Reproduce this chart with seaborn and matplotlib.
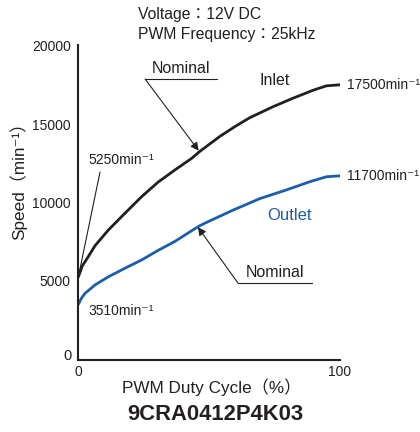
import numpy as np
import pandas as pd
import matplotlib
matplotlib.use("Agg")
import matplotlib.pyplot as plt
import seaborn as sns

# ---- data ----
inlet_duty = [0, 1.5, 3.8, 6.4, 11.5, 17.8, 24.2, 30.5, 36.9, 43.3, 46.4, 49.6, 54, 60, 65.5, 74.4, 82, 89.7, 94.8, 100]
inlet_speed = [5250, 5950, 6550, 7250, 8250, 9310, 10370, 11300, 12070, 12810, 13250, 13650, 14200, 14850, 15400, 16100, 16640, 17150, 17430, 17500]
outlet_duty = [0, 1.2, 2.6, 6.4, 11.5, 17.8, 24.2, 30.5, 36.9, 43.3, 46.4, 49.6, 59.2, 69.4, 79.5, 88.4, 94.8, 100]
outlet_speed = [3510, 3900, 4220, 4750, 5270, 5810, 6340, 6950, 7520, 8200, 8520, 8780, 9520, 10250, 10800, 11320, 11640, 11700]
off_duty = [3.7, 13.3]
off_speed = [0, 0]

series_names = ["Inlet", "Outlet"]
x_ticks = [0, 20, 40, 60, 80, 100]
x_ticklabels = ["0", "", "", "", "", "100"]
y_ticks = [0, 5000, 10000, 15000, 20000]
y_ticklabels = ["", "5000", "10000", "15000", "20000"]

title = "9CRA0412P4K03"
xlabel = "PWM Duty Cycle（%）"
ylabel = "Speed（min⁻¹）"
cond1 = "Voltage：12V DC"
cond2 = "PWM Frequency：25kHz"

sns.set_style("white")
plt.rcParams["font.family"] = ["Liberation Sans", "DejaVu Sans", "Noto Sans CJK JP"]

TXT = "#231f20"
BLUE = "#1a5eab"

df = pd.concat([
    pd.DataFrame({"duty": inlet_duty, "speed": inlet_speed, "series": series_names[0]}),
    pd.DataFrame({"duty": outlet_duty, "speed": outlet_speed, "series": series_names[1]}),
], ignore_index=True)

W, H = 420, 432
fig = plt.figure(figsize=(W / 100, H / 100), dpi=100)
ax = fig.add_axes([78.3 / W, 1 - 359.5 / H, 261.7 / W, 314 / H])

sns.lineplot(data=df, x="duty", y="speed", hue="series",
             palette={"Inlet": TXT, "Outlet": BLUE}, linewidth=2.0,
             legend=False, ax=ax, sort=False, estimator=None)
for ln in ax.lines:
    ln.set_solid_joinstyle("round")
ax.plot(off_duty, off_speed, color=TXT, lw=2.2, solid_capstyle="butt")

ax.set_xlim(0, 100)
ax.set_ylim(0, 20000)
sns.despine(ax=ax)
for s in ["left", "bottom"]:
    ax.spines[s].set_color(TXT)
    ax.spines[s].set_linewidth(1.5)
ax.set_xticks(x_ticks)
ax.set_xticklabels(x_ticklabels)
ax.set_yticks(y_ticks)
ax.set_yticklabels(y_ticklabels)
ax.tick_params(axis="both", direction="inout", length=7, width=1.1, color=TXT,
               labelcolor=TXT, labelsize=10, pad=2)
ax.tick_params(axis="x", length=6, pad=1)
ax.set_xlabel("")
ax.set_ylabel("")
ax.text(-2.5, 250, "0", ha="right", va="center", fontsize=10.5, color=TXT)

# annotations
ax.text(39.2, 18550, "Nominal", ha="center", va="center", fontsize=11.5, color=TXT)
ax.plot([25.5, 53], [17870, 17870], color=TXT, lw=0.8)
ax.annotate("", xy=(46.0, 13300), xytext=(25.5, 17870),
            arrowprops=dict(arrowstyle="-|>", color=TXT, lw=0.8, mutation_scale=12,
                            shrinkA=0, shrinkB=0))
ax.text(75.2, 5570, "Nominal", ha="center", va="center", fontsize=11.5, color=TXT)
ax.plot([61, 89.3], [4870, 4870], color=TXT, lw=0.8)
ax.annotate("", xy=(45.7, 8430), xytext=(61, 4870),
            arrowprops=dict(arrowstyle="-|>", color=TXT, lw=0.8, mutation_scale=12,
                            shrinkA=0, shrinkB=0))

ax.text(3.7, 12710, "5250min⁻¹", ha="left", va="center", fontsize=10, color=TXT)
ax.plot([8.3, 0], [11940, 5250], color=TXT, lw=0.8)
ax.text(3.7, 3090, "3510min⁻¹", ha="left", va="center", fontsize=10, color=TXT)
ax.text(102.6, 17480, "17500min⁻¹", ha="left", va="center", fontsize=10, color=TXT, clip_on=False)
ax.text(102.6, 11700, "11700min⁻¹", ha="left", va="center", fontsize=10, color=TXT, clip_on=False)
ax.text(75.2, 17800, "Inlet", ha="center", va="center", fontsize=11.5, color=TXT)
ax.text(80.6, 9200, "Outlet", ha="center", va="center", fontsize=12, color=BLUE)

# figure texts
fig.text(138 / W, 1 - 15 / H, cond1, ha="left", va="center", fontsize=11.3, color=TXT)
fig.text(138 / W, 1 - 35 / H, cond2, ha="left", va="center", fontsize=11.3, color=TXT)
fig.text(212 / W, 1 - 387 / H, xlabel, ha="center", va="center", fontsize=12.3, color=TXT)
fig.text(18 / W, 1 - 177 / H, ylabel, ha="center", va="center", rotation=90, fontsize=12.3, color=TXT)
fig.text(215 / W, 1 - 414 / H, title, ha="center", va="center", fontsize=15.8,
         fontweight="bold", color=TXT)

fig.savefig("out.png", dpi=100)
